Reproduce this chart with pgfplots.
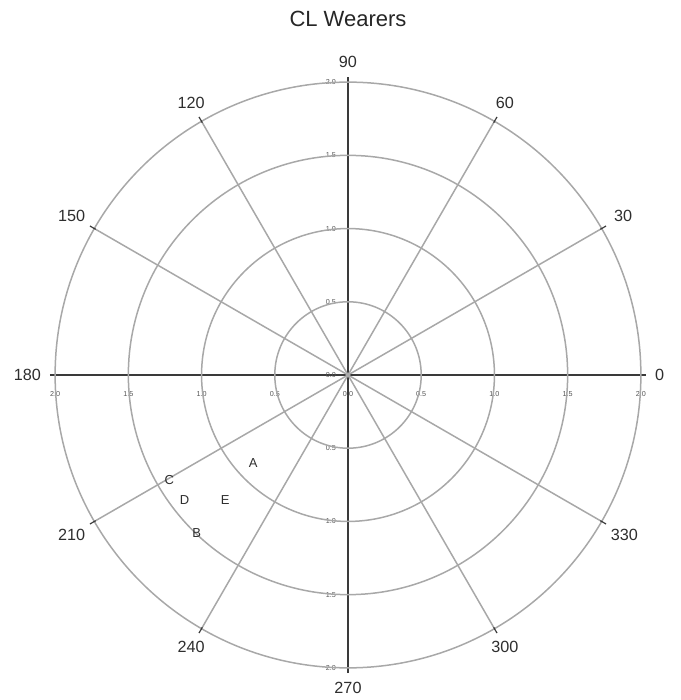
\documentclass[border=0pt]{standalone}
\usepackage{pgfplots}
\pgfplotsset{compat=1.18}
\usepgfplotslibrary{polar}
\usepackage{fontspec}
\setmainfont{Liberation Sans}
\definecolor{gridc}{HTML}{A8A8A8}
\definecolor{axc}{HTML}{3A3A3A}
\definecolor{tlc}{HTML}{555555}
\definecolor{labc}{HTML}{2E2E2E}
\newcommand{\pc}[2]{(axis cs:{(#2)*cos(#1)},{(#2)*sin(#1)})}
\begin{document}
\begin{tikzpicture}
\useasboundingbox (-25pt,-13.5pt) rectangle (315pt,336.5pt);
\begin{axis}[
  at={(0,0)}, anchor=south west,
  scale only axis, width=298pt, height=298pt,
  xmin=-2.035, xmax=2.035, ymin=-2.035, ymax=2.035,
  axis lines=center,
  axis line style={-, draw=axc, line width=0.9pt},
  hide obscured x ticks=false, hide obscured y ticks=false,
  xtick={-2,-1.5,-1,-0.5,0,0.5,1,1.5,2},
  ytick={-2,-1.5,-1,-0.5,0,0.5,1,1.5,2},
  xticklabels={2.0,1.5,1.0,0.5,0.0,0.5,1.0,1.5,2.0},
  yticklabels={2.0,1.5,1.0,0.5,0.0,0.5,1.0,1.5,2.0},
  tick align=outside, major tick length=2.5pt,
  tick style={draw=axc, line width=0.6pt},
  tick label style={font=\fontsize{3.6}{4}\selectfont, text=tlc},
  xticklabel style={yshift=-2pt},
  clip=false,
  title={CL Wearers},
  every axis title/.style={at={(0.5,1)}, anchor=center, yshift=29pt, font=\fontsize{11}{13}\selectfont, text=black!85},
]
% grid circles
\draw[gridc, line width=0.75pt] (axis cs:0,0) circle [radius=0.5];
\draw[gridc, line width=0.75pt] (axis cs:0,0) circle [radius=1];
\draw[gridc, line width=0.75pt] (axis cs:0,0) circle [radius=1.5];
\draw[gridc, line width=0.75pt] (axis cs:0,0) circle [radius=2];
% spokes
\pgfplotsinvokeforeach{30,60,120,150,210,240,300,330}{
  \draw[gridc, line width=0.75pt] (axis cs:0,0) -- \pc{#1}{2};
  \draw[axc, line width=0.6pt] \pc{#1}{1.99} -- \pc{#1}{2.035};
}
% angle labels
\tikzset{alab/.style={font=\fontsize{8.1}{9}\selectfont, text=labc, inner sep=0pt}}
\node[alab, anchor=180] at \pc{0}{2.095} {0};
\node[alab, anchor=210] at \pc{30}{2.095} {30};
\node[alab, anchor=240] at \pc{60}{2.095} {60};
\node[alab, anchor=270] at \pc{90}{2.095} {90};
\node[alab, anchor=300] at \pc{120}{2.095} {120};
\node[alab, anchor=330] at \pc{150}{2.095} {150};
\node[alab, anchor=0] at \pc{180}{2.095} {180};
\node[alab, anchor=30] at \pc{210}{2.095} {210};
\node[alab, anchor=60] at \pc{240}{2.095} {240};
\node[alab, anchor=90] at \pc{270}{2.095} {270};
\node[alab, anchor=120] at \pc{300}{2.095} {300};
\node[alab, anchor=150] at \pc{330}{2.095} {330};
% data points (angle, radius) shown as letters
\addplot[draw=none, mark=none, data cs=polar,
  nodes near coords, point meta=explicit symbolic,
  every node near coord/.style={anchor=center, inner sep=0pt, font=\fontsize{6.5}{7}\selectfont, text=labc}]
  coordinates {
    (223.0,0.884) [A]
    (210.4,1.415) [C]
    (217.4,1.406) [D]
    (225.5,1.197) [E]
    (226.2,1.492) [B]
  };
\end{axis}
\end{tikzpicture}
\end{document}
